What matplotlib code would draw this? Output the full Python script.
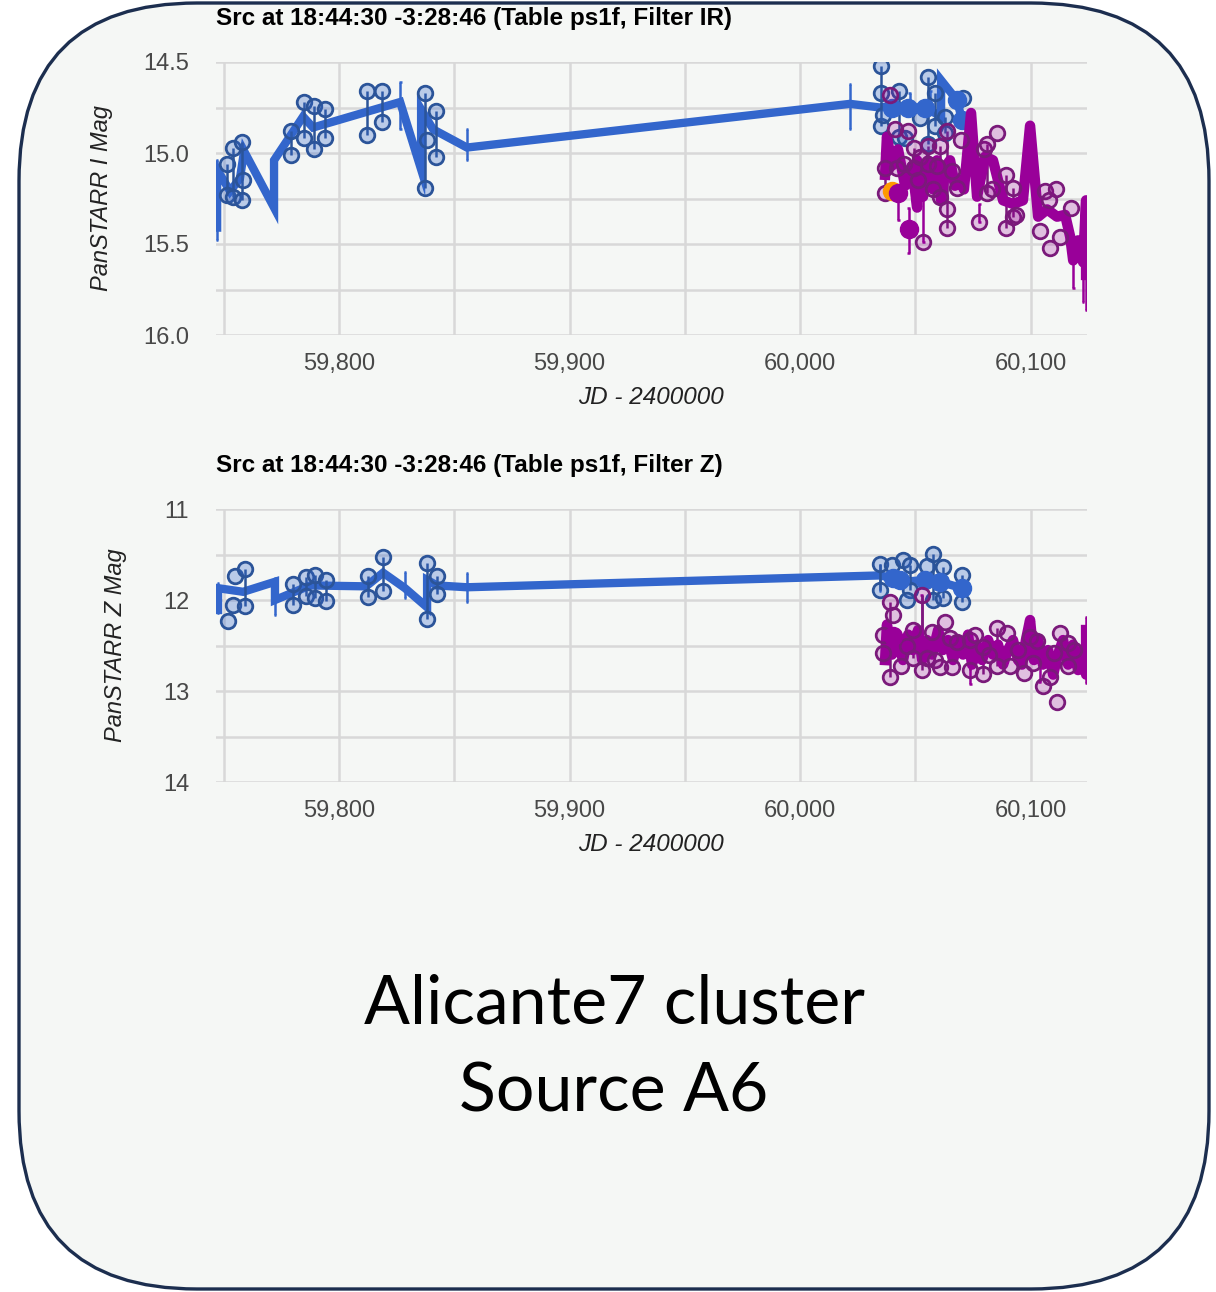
import numpy as np
import matplotlib.pyplot as plt
from matplotlib.patches import FancyBboxPatch

W, H = 1216, 1292

BLUE = '#3366cc'
BLUE_EDGE = '#2b5499'
BLUE_FILL = (0.2, 0.4, 0.8, 0.30)
PURPLE = '#990099'
PURPLE_EDGE = '#7a1a7a'
PURPLE_FILL = (0.6, 0.0, 0.6, 0.22)
ORANGE = '#ff9900'
BG = '#f5f7f5'
GRID = '#d8d8d8'

# ---------------- Filter IR ----------------
ir_blue_jd = [59751.3, 59751.3, 59754.1, 59754.1, 59758.0, 59758.0, 59758.5,
              59779.0, 59779.0, 59784.9, 59784.9, 59789.3, 59789.3, 59793.9, 59793.9,
              59812.3, 59812.3, 59818.8, 59818.8, 59837.3, 59837.3, 59838.0,
              59842.1, 59842.1,
              60035.0, 60035.0, 60035.0, 60036.1, 60043.0, 60043.0, 60045.6,
              60052.1, 60055.5, 60055.5, 60058.4, 60058.4, 60063.0, 60063.0, 60070.9]
ir_blue_mag = [15.06, 15.23, 14.97, 15.24, 14.94, 15.26, 15.15,
               14.88, 15.01, 14.72, 14.92, 14.74, 14.98, 14.76, 14.92,
               14.66, 14.90, 14.66, 14.83, 14.67, 15.19, 14.93,
               14.77, 15.02,
               14.52, 14.67, 14.85, 14.79, 14.66, 14.91, 14.92,
               14.81, 14.58, 14.95, 14.67, 14.85, 14.80, 14.89, 14.70]

ir_blue_line_jd = [59747.1, 59747.1, 59752.7, 59757.0, 59758.8, 59771.8, 59771.8,
                   59784.4, 59788.7, 59826.5, 59835.6, 59835.6, 59840.8, 59855.5,
                   60021.7, 60034.7, 60039.9, 60046.9, 60054.2, 60061.2, 60061.2,
                   60068.1, 60070.3]
ir_blue_line_mag = [15.41, 15.09, 15.21, 15.14, 14.99, 15.30, 15.04,
                    14.80, 14.86, 14.72, 15.09, 14.76, 14.87, 14.97,
                    14.73, 14.75, 14.74, 14.75, 14.75, 14.80, 14.60,
                    14.71, 14.82]

ir_blue_mean_jd = [60039.7, 60047.0, 60054.2, 60068.0, 60070.2]
ir_blue_mean_mag = [14.75, 14.75, 14.75, 14.71, 14.82]

ir_blue_int_jd = [59747.1, 59772.3, 59826.5, 59855.5, 60021.7, 60047.5, 60056.5]
ir_blue_int_lo = [15.04, 15.18, 14.61, 14.87, 14.62, 14.67, 14.66]
ir_blue_int_hi = [15.48, 15.34, 14.87, 15.04, 14.87, 14.71, 14.72]

ir_purple_jd = [60036.9, 60036.9, 60039.0, 60041.2, 60042.0, 60045.0, 60047.0,
                60049.5, 60049.5, 60051.0, 60052.1, 60053.5, 60055.7, 60055.7,
                60057.9, 60059.3, 60060.7, 60060.7, 60063.6, 60063.6, 60063.6,
                60066.0, 60068.0, 60070.0, 60077.7, 60079.6, 60081.0, 60081.0,
                60083.2, 60085.3, 60089.3, 60089.3, 60092.2, 60092.2, 60093.6,
                60104.1, 60106.3, 60107.8, 60108.5, 60111.0, 60112.8, 60117.5]
ir_purple_mag = [15.08, 15.22, 14.68, 14.87, 15.08, 15.06, 14.88,
                 14.97, 15.08, 15.15, 15.02, 15.49, 14.96, 15.06,
                 15.20, 15.07, 14.96, 15.24, 14.88, 15.31, 15.41,
                 15.10, 15.19, 14.93, 15.38, 14.98, 14.95, 15.22,
                 15.20, 14.89, 15.12, 15.41, 15.19, 15.35, 15.34,
                 15.43, 15.21, 15.26, 15.52, 15.20, 15.46, 15.30]

ir_purple_line_jd = [60036.9, 60037.7, 60039.9, 60042.5, 60045.6, 60048.6, 60050.8,
                     60050.8, 60053.4, 60055.5, 60057.7, 60059.4, 60061.2, 60063.3,
                     60065.1, 60067.2, 60069.4, 60071.1, 60074.2, 60076.8, 60080.3,
                     60083.7, 60088.1, 60092.4, 60096.7, 60099.8, 60103.3, 60107.2,
                     60111.5, 60115.0, 60117.2, 60118.5, 60120.6, 60122.8, 60124.1,
                     60124.1]
ir_purple_line_mag = [15.12, 14.91, 15.07, 14.98, 15.18, 15.07, 15.30,
                      15.04, 15.24, 15.04, 15.20, 15.04, 15.26, 15.07,
                      15.04, 15.18, 15.15, 15.20, 14.78, 15.24, 15.02,
                      15.04, 15.26, 15.28, 15.26, 14.85, 15.35, 15.31,
                      15.35, 15.34, 15.46, 15.59, 15.48, 15.60, 15.26,
                      15.67]

ir_purple_mean_jd = [60042.7, 60047.2]
ir_purple_mean_mag = [15.22, 15.42]
ir_orange_jd = [60039.8]
ir_orange_mag = [15.21]

ir_purple_int_jd = [60042.7, 60047.2, 60053.5, 60077.7, 60118.5, 60122.8, 60124.1]
ir_purple_int_lo = [15.22, 15.30, 15.24, 15.28, 15.59, 15.60, 15.24]
ir_purple_int_hi = [15.37, 15.55, 15.49, 15.38, 15.74, 15.82, 15.86]

# ---------------- Filter Z ----------------
z_blue_jd = [59752.0, 59754.9, 59759.2, 59754.1, 59759.2, 59780.2, 59780.2,
             59785.7, 59785.7, 59789.6, 59789.6, 59794.4, 59794.4, 59812.7, 59812.7,
             59819.2, 59819.2, 59838.0, 59838.0, 59842.6, 59842.6,
             60034.7, 60034.7, 60039.8, 60044.8, 60047.7, 60047.7, 60046.3,
             60057.8, 60057.8, 60054.9, 60062.2, 60062.2, 60070.2, 60070.2]
z_blue_mag = [12.23, 11.74, 11.66, 12.06, 12.07, 11.82, 12.06,
              11.75, 11.96, 11.73, 11.98, 11.78, 12.01, 11.74, 11.97,
              11.53, 11.90, 11.59, 12.21, 11.74, 11.93,
              11.60, 11.89, 11.62, 11.56, 11.62, 11.89, 12.00,
              11.49, 12.00, 11.63, 11.64, 11.98, 11.73, 12.02]

z_blue_line_jd = [59747.5, 59747.5, 59758.4, 59772.2, 59772.2, 59787.4, 59811.7,
                  59819.1, 59828.6, 59838.2, 59838.2, 59842.5, 59855.5,
                  60034.7, 60040.3, 60044.7, 60054.2, 60060.7, 60070.3]
z_blue_line_mag = [12.11, 11.87, 11.91, 11.80, 12.00, 11.84, 11.85,
                   11.70, 11.87, 12.08, 11.78, 11.84, 11.86,
                   11.73, 11.76, 11.80, 11.78, 11.80, 11.87]

z_blue_mean_jd = [60040.5, 60043.4, 60054.2, 60060.7, 60070.2]
z_blue_mean_mag = [11.76, 11.78, 11.78, 11.80, 11.87]

z_blue_int_jd = [59747.5, 59772.2, 59828.6, 59855.5, 60034.7]
z_blue_int_lo = [11.81, 11.76, 11.69, 11.70, 11.62]
z_blue_int_hi = [12.14, 12.16, 11.98, 12.02, 11.90]

z_purple_jd = [60036.1, 60036.1, 60039.0, 60039.0, 60040.5, 60044.0, 60046.5,
               60049.2, 60049.2, 60052.8, 60052.8, 60054.9, 60057.1, 60058.5,
               60060.7, 60062.9, 60065.1, 60065.8, 60068.0, 60073.8, 60073.8,
               60076.0, 60079.5, 60079.5, 60082.0, 60085.3, 60085.3, 60089.7,
               60091.1, 60094.5, 60097.0, 60099.8, 60101.1, 60102.7, 60105.6,
               60108.5, 60110.0, 60111.4, 60112.8, 60116.4, 60116.4, 60119.0]
z_purple_mag = [12.38, 12.58, 12.02, 12.85, 12.17, 12.72, 12.50,
                12.33, 12.64, 11.95, 12.77, 12.64, 12.35, 12.66,
                12.74, 12.24, 12.42, 12.74, 12.46, 12.44, 12.77,
                12.38, 12.52, 12.81, 12.60, 12.31, 12.72, 12.36,
                12.72, 12.55, 12.80, 12.41, 12.69, 12.45, 12.95,
                12.85, 12.58, 13.12, 12.36, 12.47, 12.73, 12.55]

z_purple_line_jd = [60036.9, 60037.7, 60039.9, 60042.1, 60044.7, 60046.9, 60049.0,
                    60051.2, 60053.0, 60055.1, 60057.3, 60059.9, 60062.0, 60064.2,
                    60066.4, 60068.5, 60070.7, 60072.9, 60074.6, 60076.8, 60079.0,
                    60081.6, 60083.7, 60085.9, 60088.1, 60090.2, 60092.4, 60094.6,
                    60096.3, 60098.0, 60099.8, 60101.5, 60103.3, 60105.4, 60107.6,
                    60109.8, 60111.9, 60114.1, 60116.3, 60118.5, 60120.6, 60122.8,
                    60124.1, 60124.1]
z_purple_line_mag = [12.66, 12.27, 12.60, 12.44, 12.66, 12.38, 12.55,
                     12.33, 12.66, 12.44, 12.60, 12.33, 12.55, 12.44,
                     12.66, 12.44, 12.60, 12.38, 12.71, 12.49, 12.66,
                     12.44, 12.60, 12.49, 12.71, 12.55, 12.44, 12.66,
                     12.71, 12.44, 12.22, 12.66, 12.44, 12.71, 12.55,
                     12.82, 12.60, 12.44, 12.71, 12.49, 12.77, 12.55,
                     12.82, 12.33]

z_purple_mean_jd = [60040.5]
z_purple_mean_mag = [12.40]

z_purple_int_jd = [60052.8, 60073.8, 60104.0, 60124.1]
z_purple_int_lo = [11.95, 12.55, 12.70, 12.19]
z_purple_int_hi = [12.64, 12.92, 12.90, 12.91]

x_major = [59800, 59900, 60000, 60100]
x_minor = [59750, 59850, 59950, 60050]
x_labels = ['59,800', '59,900', '60,000', '60,100']

FONT = ['Liberation Sans', 'DejaVu Sans']


def whiskers(ax, jd, mag, color):
    jd = np.asarray(jd)
    mag = np.asarray(mag)
    for d in np.unique(jd):
        m = mag[jd == d]
        if len(m) > 1:
            ax.vlines(d, m.min(), m.max(), color=color, lw=1.8, zorder=3)


def brackets(ax, jd, lo, hi, color):
    jd = np.asarray(jd)
    ax.vlines(jd, lo, hi, color=color, lw=1.8, zorder=3)
    ax.hlines(lo, jd - 0.6, jd + 0.6, color=color, lw=1.8, zorder=3)
    ax.hlines(hi, jd - 0.6, jd + 0.6, color=color, lw=1.8, zorder=3)


def setup(ax, ylim, ymajor, yminor, ylabels, ylabel, ypad):
    ax.set_facecolor('none')
    ax.set_xlim(59746.4, 60124.5)
    ax.set_ylim(*ylim)
    ax.set_xticks(x_major)
    ax.set_xticklabels(x_labels)
    ax.set_xticks(x_minor, minor=True)
    ax.set_yticks(ymajor)
    ax.set_yticklabels(ylabels)
    ax.set_yticks(yminor, minor=True)
    ax.grid(True, which='both', color=GRID, lw=1.8, zorder=0)
    ax.set_axisbelow(True)
    for s in ax.spines.values():
        s.set_visible(False)
    ax.tick_params(which='both', length=0)
    ax.tick_params(axis='y', pad=19, labelsize=17, labelcolor='#484848')
    ax.tick_params(axis='x', pad=13, labelsize=17, labelcolor='#484848')
    for t in ax.get_xticklabels() + ax.get_yticklabels():
        t.set_family(FONT)
    ax.set_xlabel('JD - 2400000', fontsize=17.5, style='italic', color='#222222',
                  family=FONT, labelpad=8)
    ax.set_ylabel(ylabel, fontsize=17, style='italic', color='#222222',
                  family=FONT, labelpad=ypad)


def draw(ax, blue, purple):
    (bjd, bmag, bljd, blmag, bmjd, bmmag, bijd, bilo, bihi) = blue
    (pjd, pmag, pljd, plmag, pmjd, pmmag, pijd, pilo, pihi) = purple
    ax.plot(bljd, blmag, color=BLUE, lw=6, solid_joinstyle='miter', zorder=2)
    brackets(ax, bijd, bilo, bihi, BLUE)
    whiskers(ax, bjd, bmag, BLUE_EDGE)
    ax.plot(bjd, bmag, 'o', ms=10.5, mfc=BLUE_FILL, mec=BLUE_EDGE, mew=2, zorder=4)
    ax.plot(bmjd, bmmag, 'o', ms=13, color=BLUE, zorder=5)
    ax.plot(pljd, plmag, color=PURPLE, lw=7.5, solid_joinstyle='round', zorder=6)
    brackets(ax, pijd, pilo, pihi, PURPLE)
    whiskers(ax, pjd, pmag, PURPLE_EDGE)
    ax.plot(pjd, pmag, 'o', ms=10.5, mfc=PURPLE_FILL, mec=PURPLE_EDGE, mew=2, zorder=7)


fig = plt.figure(figsize=(W / 100, H / 100), dpi=100)
fig.patch.set_facecolor('white')

# rounded card behind both charts
bg = fig.add_axes([0, 0, 1, 1], zorder=0)
bg.set_xlim(0, W)
bg.set_ylim(H, 0)
bg.axis('off')
bg.add_patch(FancyBboxPatch((19, 3), 1190, 1286,
                            boxstyle='round,pad=0,rounding_size=178',
                            fc=BG, ec='#1c2e4f', lw=2.4))

ax1 = fig.add_axes([215.5 / W, 1 - 335 / H, (1087 - 215.5) / W, 273 / H], zorder=2)
setup(ax1, (16.0, 14.5), [14.5, 15.0, 15.5, 16.0], [14.75, 15.25, 15.75],
      ['14.5', '15.0', '15.5', '16.0'], 'PanSTARR I Mag', 22)
draw(ax1,
     (ir_blue_jd, ir_blue_mag, ir_blue_line_jd, ir_blue_line_mag,
      ir_blue_mean_jd, ir_blue_mean_mag, ir_blue_int_jd, ir_blue_int_lo, ir_blue_int_hi),
     (ir_purple_jd, ir_purple_mag, ir_purple_line_jd, ir_purple_line_mag,
      ir_purple_mean_jd, ir_purple_mean_mag, ir_purple_int_jd, ir_purple_int_lo,
      ir_purple_int_hi))
ax1.plot(ir_orange_jd, ir_orange_mag, 'o', ms=13, color=ORANGE, zorder=8)
ax1.plot(ir_purple_mean_jd, ir_purple_mean_mag, 'o', ms=13, color=PURPLE, zorder=9)

ax2 = fig.add_axes([215.5 / W, 1 - 782 / H, (1087 - 215.5) / W, 273 / H], zorder=2)
setup(ax2, (14, 11), [11, 12, 13, 14], [11.5, 12.5, 13.5],
      ['11', '12', '13', '14'], 'PanSTARR Z Mag', 26)
draw(ax2,
     (z_blue_jd, z_blue_mag, z_blue_line_jd, z_blue_line_mag,
      z_blue_mean_jd, z_blue_mean_mag, z_blue_int_jd, z_blue_int_lo, z_blue_int_hi),
     (z_purple_jd, z_purple_mag, z_purple_line_jd, z_purple_line_mag,
      z_purple_mean_jd, z_purple_mean_mag, z_purple_int_jd, z_purple_int_lo,
      z_purple_int_hi))
ax2.plot(z_purple_mean_jd, z_purple_mean_mag, 'o', ms=13, color=PURPLE, zorder=9)

fig.text(216 / W, 1 - 19 / H, 'Src at 18:44:30 -3:28:46 (Table ps1f, Filter IR)',
         ha='left', va='center', fontsize=17.5, fontweight='bold', family=FONT)
fig.text(216 / W, 1 - 466 / H, 'Src at 18:44:30 -3:28:46 (Table ps1f, Filter Z)',
         ha='left', va='center', fontsize=17.5, fontweight='bold', family=FONT)

fig.text(614 / W, 1 - 1005 / H, 'Alicante7 cluster', ha='center', va='center',
         fontsize=49, family=['Lato', 'DejaVu Sans'])
fig.text(614 / W, 1 - 1093 / H, 'Source A6', ha='center', va='center',
         fontsize=49, family=['Lato', 'DejaVu Sans'])

fig.savefig('out.png', dpi=100, facecolor='white')
